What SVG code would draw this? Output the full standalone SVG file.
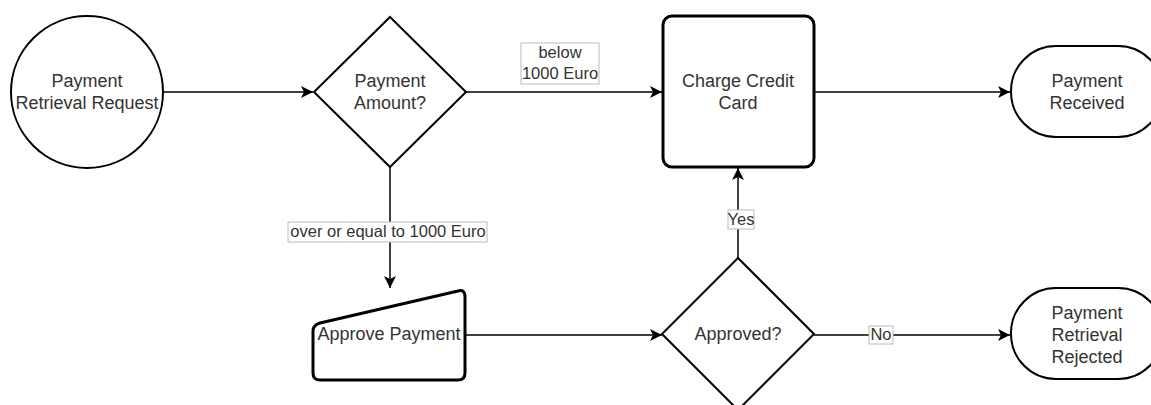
<svg xmlns="http://www.w3.org/2000/svg" width="1151" height="405" viewBox="0 0 1151 405">
  <style>
    .shape { fill: #ffffff; stroke: #000000; stroke-width: 2; }
    .thick { stroke-width: 3; }
    .txt { font-family: "Liberation Sans", Arial, sans-serif; font-size: 18px; fill: #333333; text-anchor: middle; }
    .lbl { font-family: "Liberation Sans", Arial, sans-serif; font-size: 16.5px; fill: #333333; text-anchor: middle; }
    .lblbox { fill: #ffffff; stroke: #bbbbbb; stroke-width: 1; }
    .edge { fill: none; stroke: #000000; stroke-width: 1.5; marker-end: url(#arrow); }
  </style>
  <defs>
    <marker id="arrow" markerUnits="userSpaceOnUse" markerWidth="14" markerHeight="12" refX="12" refY="6" orient="auto">
      <path d="M0,0 L12,6 L0,12 L3,6 Z" fill="#000000"/>
    </marker>
  </defs>
  <rect width="1151" height="405" fill="#ffffff"/>

  <!-- connectors -->
  <g id="connectors">
    <path class="edge" d="M163,92 L313,92"/>
    <path class="edge" d="M466,92 L662,92"/>
    <path class="edge" d="M814,92 L1010,92"/>
    <path class="edge" d="M390,167 L390,288"/>
    <path class="edge" d="M465,335 L662,335"/>
    <path class="edge" d="M738,258 L738,168"/>
    <path class="edge" d="M814,335 L1010,335"/>

    <g id="label-below">
      <rect class="lblbox" x="521" y="43" width="78" height="41"/>
      <text class="lbl" x="560" y="58">below</text>
      <text class="lbl" x="560" y="79">1000 Euro</text>
    </g>
    <g id="label-over">
      <rect class="lblbox" x="288" y="222" width="199" height="20"/>
      <text class="lbl" x="388" y="237">over or equal to 1000 Euro</text>
    </g>
    <g id="label-yes">
      <rect class="lblbox" x="728" y="210" width="26" height="19"/>
      <text class="lbl" x="741" y="225">Yes</text>
    </g>
    <g id="label-no">
      <rect class="lblbox" x="869" y="326" width="24" height="18"/>
      <text class="lbl" x="881" y="340">No</text>
    </g>
  </g>

  <!-- start event -->
  <g id="payment-retrieval-request">
    <circle class="shape" cx="87" cy="92" r="76"/>
    <text class="txt" x="87" y="87">Payment</text>
    <text class="txt" x="87" y="109">Retrieval Request</text>
  </g>

  <!-- amount decision -->
  <g id="payment-amount">
    <polygon class="shape" points="390,17 466,92 390,167 314,92"/>
    <text class="txt" x="390" y="87">Payment</text>
    <text class="txt" x="390" y="109">Amount?</text>
  </g>

  <!-- charge step -->
  <g id="charge-credit-card">
    <rect class="shape thick" x="663" y="16" width="151" height="151" rx="9" ry="9"/>
    <text class="txt" x="738" y="87">Charge Credit</text>
    <text class="txt" x="738" y="109">Card</text>
  </g>

  <!-- received terminal -->
  <g id="payment-received">
    <rect class="shape" x="1011" y="46" width="152" height="91" rx="45" ry="45"/>
    <text class="txt" x="1087" y="87">Payment</text>
    <text class="txt" x="1087" y="109">Received</text>
  </g>

  <!-- manual approval -->
  <g id="approve-payment">
    <path class="shape thick" d="M320,323 L458,291 Q465,289 465,297 L465,373 Q465,380 458,380 L320,380 Q313,380 313,373 L313,331 Q313,325 320,323 Z"/>
    <text class="txt" x="389" y="340">Approve Payment</text>
  </g>

  <!-- approval decision -->
  <g id="approved">
    <polygon class="shape" points="738,258 814,334 738,410 662,334"/>
    <text class="txt" x="738" y="340">Approved?</text>
  </g>

  <!-- rejected terminal -->
  <g id="payment-retrieval-rejected">
    <rect class="shape" x="1011" y="288" width="152" height="91" rx="45" ry="45"/>
    <text class="txt" x="1087" y="319">Payment</text>
    <text class="txt" x="1087" y="341">Retrieval</text>
    <text class="txt" x="1087" y="363">Rejected</text>
  </g>
</svg>
